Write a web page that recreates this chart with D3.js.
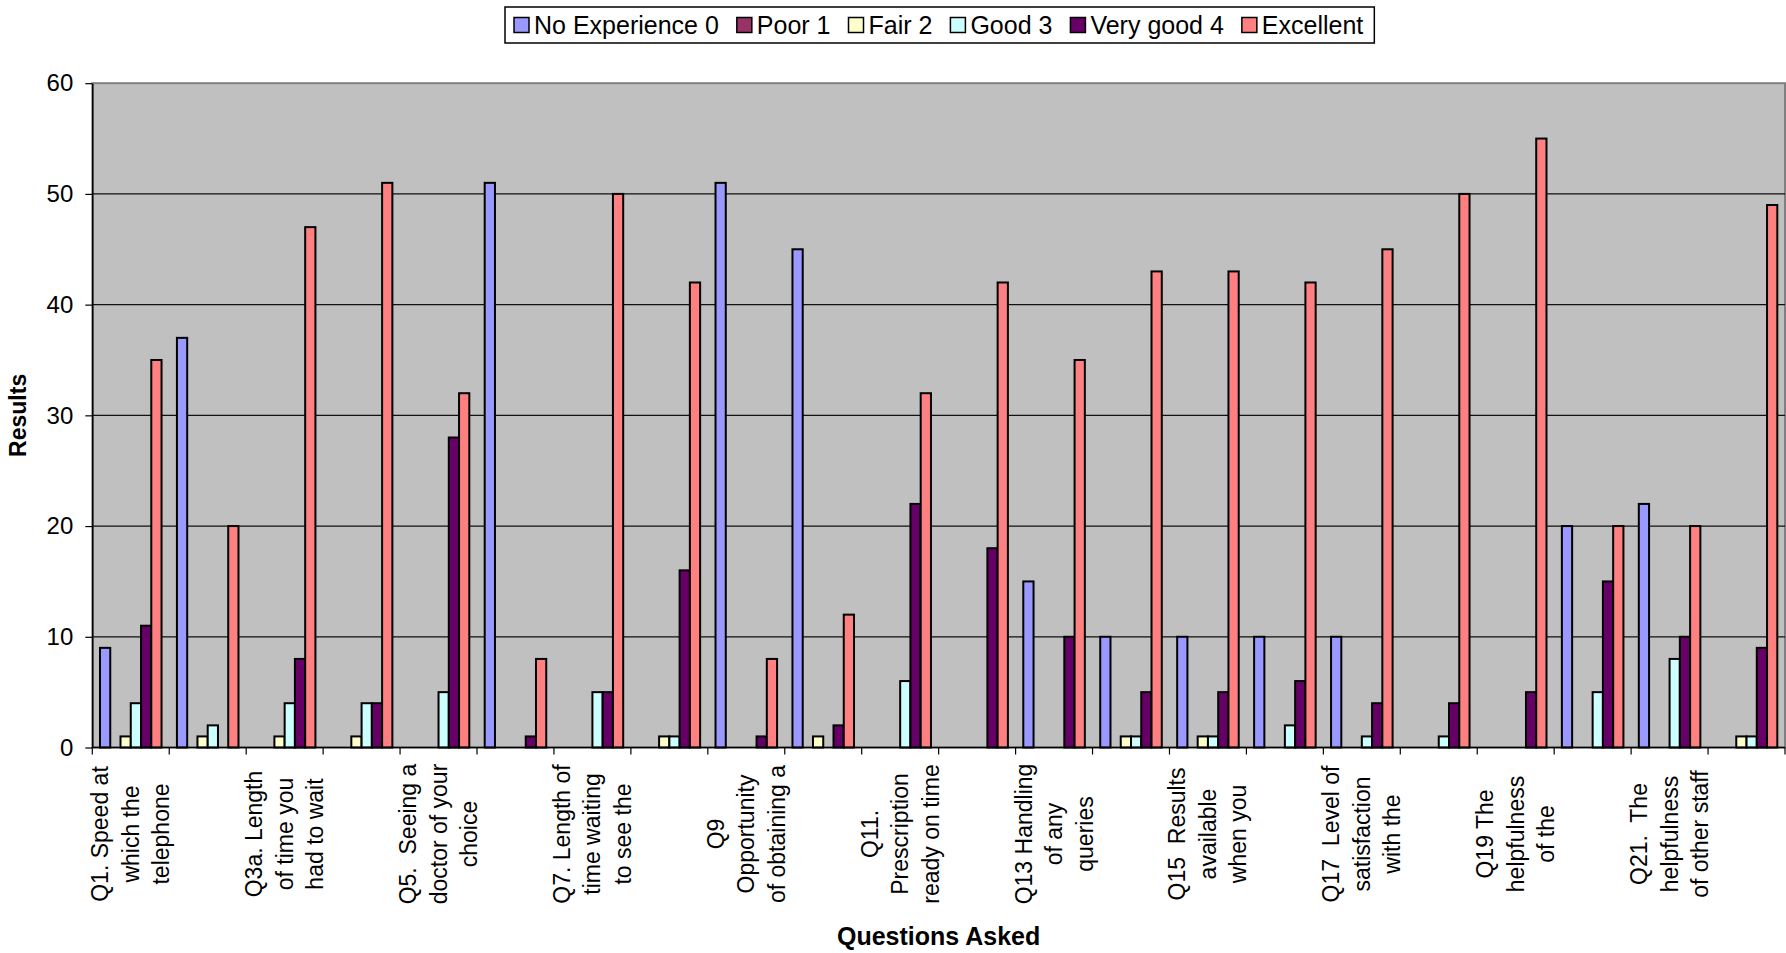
<!DOCTYPE html>
<html>
<head>
<meta charset="utf-8">
<script src="https://cdn.jsdelivr.net/npm/d3@7"></script>
<style>
  body { margin: 0; background: #ffffff; }
  svg text { font-family: "Liberation Sans", Arial, sans-serif; fill: #000; }
</style>
</head>
<body>
<svg id="chart" width="1786" height="953"></svg>
<script>
// Survey questions along the x axis (every other one carries a printed label)
const categories = ["Q1", "Q2", "Q3a", "Q4", "Q5", "Q6", "Q7", "Q8", "Q9", "Q10", "Q11",
                    "Q12", "Q13", "Q14", "Q15", "Q16", "Q17", "Q18", "Q19", "Q20", "Q21", "Q22"];

// Wrapped tick label lines, as they fit under the axis
const tickLabels = [
  ["Q1. Speed at", "which the", "telephone"], [],
  ["Q3a. Length", "of time you", "had to wait"], [],
  ["Q5.  Seeing a", "doctor of your", "choice"], [],
  ["Q7. Length of", "time waiting", "to see the"], [],
  ["Q9", "Opportunity", "of obtaining a"], [],
  ["Q11.", "Prescription", "ready on time"], [],
  ["Q13 Handling", "of any", "queries"], [],
  ["Q15  Results", "available", "when you"], [],
  ["Q17  Level of", "satisfaction", "with the"], [],
  ["Q19 The", "helpfulness", "of the"], [],
  ["Q21.  The", "helpfulness", "of other staff"], []
];

const seriesNames = ["No Experience 0", "Poor 1", "Fair 2", "Good 3", "Very good 4", "Excellent"];

const noExperience = [9, 37, 0, 0, 0, 51, 0, 0, 51, 45, 0, 0, 15, 10, 10, 10, 10, 0, 0, 20, 22, 0];
const poor         = [0, 0, 0, 0, 0, 0, 0, 0, 0, 0, 0, 0, 0, 0, 0, 0, 0, 0, 0, 0, 0, 0];
const fair         = [1, 1, 1, 1, 0, 0, 0, 1, 0, 1, 0, 0, 0, 1, 1, 0, 0, 0, 0, 0, 0, 1];
const good         = [4, 2, 4, 4, 5, 0, 5, 1, 0, 0, 6, 0, 0, 1, 1, 2, 1, 1, 0, 5, 8, 1];
const veryGood     = [11, 0, 8, 4, 28, 1, 5, 16, 1, 2, 22, 18, 10, 5, 5, 6, 4, 4, 5, 15, 10, 9];
const excellent    = [35, 20, 47, 51, 32, 8, 50, 42, 8, 12, 32, 42, 35, 43, 43, 42, 45, 50, 55, 20, 20, 49];

const yTicks = [0, 10, 20, 30, 40, 50, 60];

const seriesValues = [noExperience, poor, fair, good, veryGood, excellent];
const seriesColors = ["#9999FF", "#993366", "#FFFFCC", "#CCFFFF", "#660066", "#FF8080"];

const svg = d3.select("#chart");
const plot = { left: 92.3, right: 1785, top: 83.2, bottom: 747.5 };

const x0 = d3.scaleBand().domain(categories).range([plot.left, plot.right]).padding(0);
const x1 = d3.scaleBand().domain(seriesNames).range([0, x0.bandwidth()])
  .paddingInner(0).paddingOuter(0.75);
const y = d3.scaleLinear().domain([0, 60]).range([plot.bottom, plot.top]);
const color = d3.scaleOrdinal().domain(seriesNames).range(seriesColors);

// Plot area background and border
svg.append("rect")
  .attr("x", plot.left).attr("y", plot.top)
  .attr("width", plot.right - plot.left).attr("height", plot.bottom - plot.top)
  .attr("fill", "#C0C0C0").attr("stroke", "#808080").attr("stroke-width", 2);

// Horizontal gridlines
svg.append("g").selectAll("line")
  .data(yTicks.filter(t => t > 0 && t < 60))
  .join("line")
  .attr("x1", plot.left).attr("x2", plot.right)
  .attr("y1", d => y(d)).attr("y2", d => y(d))
  .attr("stroke", "#111").attr("stroke-width", 1.2);

// Bars
const rows = [];
categories.forEach((c, i) => {
  seriesNames.forEach((s, k) => {
    rows.push({ cat: c, series: s, value: seriesValues[k][i] });
  });
});

svg.append("g").selectAll("rect")
  .data(rows.filter(d => d.value > 0))
  .join("rect")
  .attr("x", d => x0(d.cat) + x1(d.series))
  .attr("y", d => y(d.value))
  .attr("width", x1.bandwidth())
  .attr("height", d => y(0) - y(d.value))
  .attr("fill", d => color(d.series))
  .attr("stroke", "#000")
  .attr("stroke-width", 2);

// Y axis
const yAxis = svg.append("g")
  .attr("transform", `translate(${plot.left},0)`)
  .call(d3.axisLeft(y).tickValues(yTicks).tickSize(7).tickSizeOuter(0).tickPadding(12));
yAxis.attr("font-family", null).attr("font-size", null);
yAxis.select(".domain").attr("stroke", "#000").attr("stroke-width", 1.5);
yAxis.selectAll(".tick line").attr("stroke", "#000").attr("stroke-width", 1.2);
yAxis.selectAll(".tick text").style("font-size", "24px");

// X axis line and ticks between categories
svg.append("line")
  .attr("x1", plot.left).attr("x2", plot.right)
  .attr("y1", plot.bottom).attr("y2", plot.bottom)
  .attr("stroke", "#000").attr("stroke-width", 1.5);

const boundaries = categories.map(c => x0(c)).concat([plot.right]);
svg.append("g").selectAll("line")
  .data(boundaries)
  .join("line")
  .attr("x1", d => d).attr("x2", d => d)
  .attr("y1", plot.bottom).attr("y2", plot.bottom + 7)
  .attr("stroke", "#000").attr("stroke-width", 1.2);

// Rotated, wrapped category labels (every other category)
const lineGap = 30.5;
const labelCenterY = 834;
const labelGroups = svg.append("g").selectAll("g")
  .data(categories.map((c, i) => ({ cat: c, lines: tickLabels[i], i })).filter(d => d.i % 2 === 0))
  .join("g")
  .attr("transform", d => `translate(${x0(d.cat) + x0.bandwidth() / 2},${labelCenterY}) rotate(-90)`);

labelGroups.selectAll("text")
  .data(d => d.lines.map((t, j) => ({ t, j, n: d.lines.length })))
  .join("text")
  .attr("x", 0)
  .attr("y", d => (d.j - (d.n - 1) / 2) * lineGap)
  .attr("text-anchor", "middle")
  .attr("dominant-baseline", "central")
  .style("font-size", "23px")
  .style("white-space", "pre")
  .text(d => d.t);

// Axis titles
svg.append("text")
  .attr("x", (plot.left + plot.right) / 2).attr("y", 936)
  .attr("text-anchor", "middle").attr("dominant-baseline", "central")
  .style("font-size", "25px").style("font-weight", "bold")
  .text("Questions Asked");

svg.append("text")
  .attr("transform", `translate(18,${(plot.top + plot.bottom) / 2}) rotate(-90)`)
  .attr("text-anchor", "middle").attr("dominant-baseline", "central")
  .style("font-size", "23px").style("font-weight", "bold")
  .text("Results");

// Legend
const legend = svg.append("g");
const legendBox = legend.append("rect")
  .attr("fill", "#fff").attr("stroke", "#000").attr("stroke-width", 1.5);
const swatch = 15, swatchGap = 5, itemGap = 18;
let cursor = 0;
const items = legend.selectAll("g.item")
  .data(seriesNames)
  .join("g").attr("class", "item");
items.append("rect")
  .attr("width", swatch).attr("height", swatch).attr("y", -swatch / 2)
  .attr("fill", d => color(d)).attr("stroke", "#000").attr("stroke-width", 1.5);
items.append("text")
  .attr("x", swatch + swatchGap).attr("y", 0)
  .attr("dominant-baseline", "central")
  .style("font-size", "25px")
  .text(d => d);
items.each(function () {
  const w = swatch + swatchGap + d3.select(this).select("text").node().getComputedTextLength();
  d3.select(this).attr("transform", `translate(${cursor},0)`);
  cursor += w + itemGap;
});
const legendWidth = cursor - itemGap;
const legendLeft = 514, legendMidY = 25;
legend.attr("transform", `translate(${legendLeft},${legendMidY})`);
legendBox.attr("x", -9).attr("y", -18).attr("width", legendWidth + 20).attr("height", 36);
</script>
</body>
</html>
